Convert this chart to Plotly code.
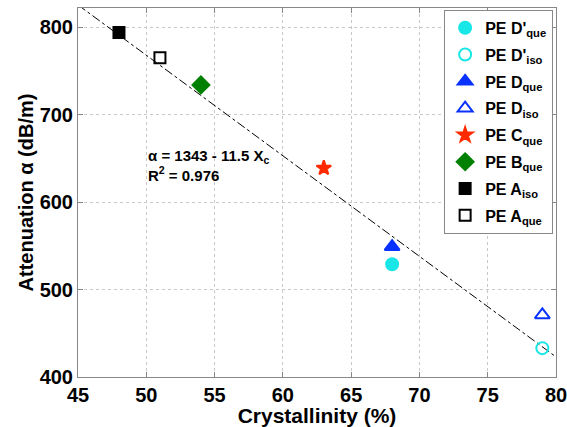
import plotly.graph_objects as go

# Data
names = ["PE D'<sub>que</sub>", "PE D'<sub>iso</sub>", "PE D<sub>que</sub>", "PE D<sub>iso</sub>",
         "PE C<sub>que</sub>", "PE B<sub>que</sub>", "PE A<sub>iso</sub>", "PE A<sub>que</sub>"]
crystallinity = [68, 79, 68, 79, 63, 54, 48, 51]
attenuation = [529, 433, 549, 471, 639, 734, 794, 765]
symbols = ["circle", "circle-open", "triangle-up", "triangle-up-open",
           "star", "diamond", "square", "square-open"]
colors = ["#19e6e6", "#19e6e6", "#0a32ff", "#0a32ff", "#ff2a00", "#008000", "#000000", "#000000"]
sizes = [12, 12, 13, 13, 11, 13, 11, 11]

fit_intercept = 1343
fit_slope = -11.5
fit_x = [45, 80]
fit_y = [fit_intercept + fit_slope * x for x in fit_x]

x_ticks = [45, 50, 55, 60, 65, 70, 75, 80]
y_ticks = [400, 500, 600, 700, 800]

font_family = "Liberation Sans, Arial, sans-serif"

fig = go.Figure()
fig.add_trace(go.Scatter(x=fit_x, y=fit_y, mode="lines", showlegend=False,
                         line=dict(color="black", width=1, dash="dashdot")))
for i, (n, xv, yv, s, c, sz) in enumerate(zip(names, crystallinity, attenuation, symbols, colors, sizes)):
    fig.add_trace(go.Scatter(
        x=[xv], y=[yv], mode="markers", name=n, legendgroup=f"g{i}",
        marker=dict(symbol=s, color=c, size=sz, line=dict(color=c, width=2))))

fig.add_annotation(x=50.0, y=642, xref="x", yref="y", xanchor="left", yanchor="middle",
                   text="α = 1343 - 11.5 X<sub>c</sub><br>R<sup>2</sup> = 0.976",
                   showarrow=False, align="left",
                   font=dict(family=font_family, size=15, color="black", weight="bold"))

axis_common = dict(showline=True, linecolor="#888888", linewidth=1, mirror="ticks",
                   ticks="inside", ticklen=5, tickcolor="#888888",
                   showgrid=True, gridcolor="#c8c8c8", griddash="dot", gridwidth=1,
                   zeroline=False, automargin=False, ticklabeloverflow="allow",
                   tickfont=dict(family=font_family, size=20, color="black", weight="bold"))

fig.update_layout(
    width=567, height=427,
    margin=dict(l=78, r=11, t=8, b=50),
    paper_bgcolor="white", plot_bgcolor="white",
    xaxis=dict(range=[45, 80], tickvals=x_ticks,
               title=dict(text="Crystallinity (%)", standoff=0,
                          font=dict(family=font_family, size=21, color="black", weight="bold")),
               **axis_common),
    yaxis=dict(range=[400, 822], tickvals=y_ticks,
               title=dict(text="Attenuation α (dB/m)", standoff=0,
                          font=dict(family=font_family, size=20, color="black", weight="bold")),
               **axis_common),
    legend=dict(x=0.994, y=0.995, xanchor="right", yanchor="top",
                bgcolor="white", bordercolor="#888888", borderwidth=1,
                font=dict(family=font_family, size=16, color="black", weight="bold"),
                tracegroupgap=3, itemwidth=30),
    showlegend=True,
)

fig.write_html("out.html", config={"displayModeBar": False},
               post_script="document.body.style.margin='0';")
